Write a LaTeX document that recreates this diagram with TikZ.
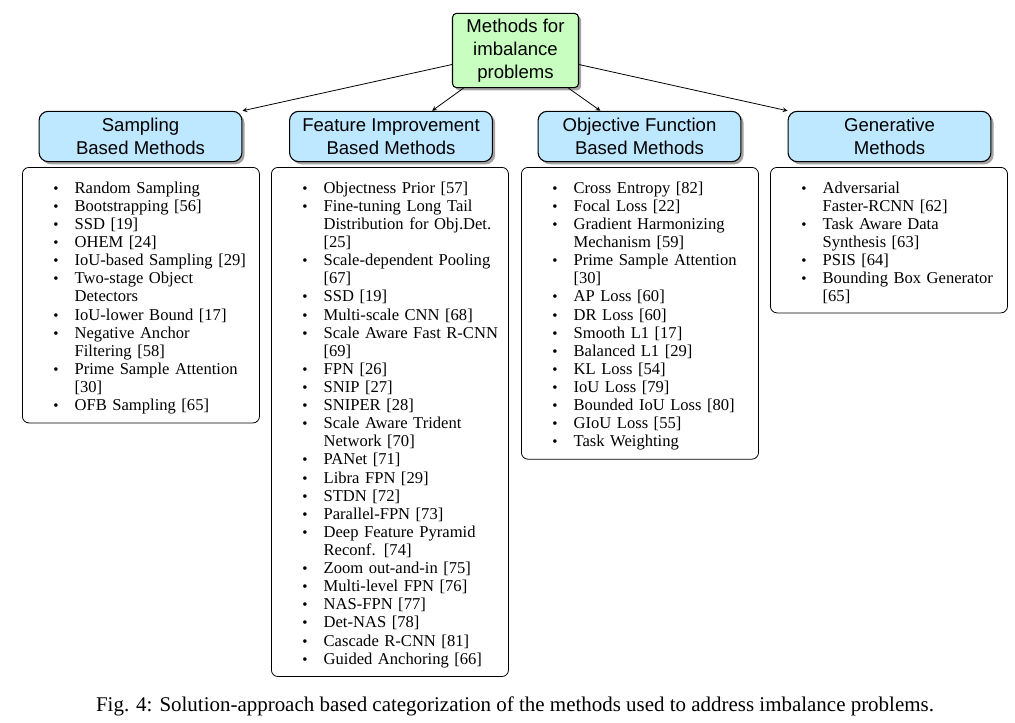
\documentclass[tikz,border=0pt]{standalone}
\usepackage{fontspec}
\setmainfont{Liberation Serif}
\setsansfont{Liberation Sans}
\usetikzlibrary{shadows}
\definecolor{rootgreen}{RGB}{200,255,192}
\definecolor{headblue}{RGB}{190,232,255}
\newcommand{\itm}{\hspace*{15pt}\makebox[16pt][l]{\scalebox{0.9}{\textbullet}}}
\newcommand{\cnt}{\hspace*{31pt}}
\begin{document}
\begin{tikzpicture}[x=0.0265cm,y=-0.0265cm,>=stealth,
		root/.style={draw,thick,fill=rootgreen,rounded corners=3pt,align=center,inner sep=2pt,
			minimum width=95pt,minimum height=56pt,font=\sffamily\fontsize{14}{17.3}\selectfont,
			drop shadow={shadow xshift=2pt,shadow yshift=-2pt,fill=black!60,opacity=0.6}},
		head/.style={draw,thick,fill=headblue,rounded corners=7pt,align=center,inner sep=2pt,
			minimum width=153pt,minimum height=38pt,font=\sffamily\fontsize{14}{17.3}\selectfont,
			drop shadow={shadow xshift=2pt,shadow yshift=-2pt,fill=black!60,opacity=0.6}},
		list/.style={draw,semithick,rounded corners=5pt,anchor=north west,align=left,
			text width=162pt,inner xsep=8.4pt,inner ysep=6.6pt,font=\fontsize{12.5}{13.66}\selectfont,
			execute at begin node={\rule{0pt}{12.9pt}}}]
		\useasboundingbox (0,0) rectangle (1015,722);
		\node[root] (root) at (515.5,50.5) {Methods for\\imbalance\\problems};
		\node[head] (samp) at (140.5,136.5) {Sampling\\Based Methods};
		\node[head] (feat) at (391,136.5) {Feature Improvement\\Based Methods};
		\node[head] (obj) at (639.5,136.5) {Objective Function\\Based Methods};
		\node[head] (gen) at (889.5,136.5) {Generative\\Methods};
		\draw[semithick,->] (root) -- (samp.north east);
		\draw[semithick,->] (root) -- ([xshift=31pt]feat.north);
		\draw[semithick,->] (root) -- ([xshift=-29.5pt]obj.north);
		\draw[semithick,->] (root) -- (gen.north west);
		\node[list] (samplist) at (22,167) {\itm Random Sampling\\ \itm Bootstrapping [56]\\ \itm SSD [19]\\
			\itm OHEM [24]\\ \itm IoU-based Sampling [29]\\ \itm Two-stage Object\\ \cnt Detectors\\
			\itm IoU-lower Bound [17]\\ \itm Negative Anchor\\ \cnt Filtering [58]\\
			\itm Prime Sample Attention\\ \cnt [30]\\ \itm OFB Sampling [65]};
		\node[list] (featlist) at (271,167) {\itm Objectness Prior [57]\\ \itm Fine-tuning Long Tail\\
			\cnt Distribution for Obj.Det.\\ \cnt [25]\\ \itm Scale-dependent Pooling\\ \cnt [67]\\
			\itm SSD [19]\\ \itm Multi-scale CNN [68]\\ \itm \mbox{Scale Aware Fast R-CNN}\\ \cnt [69]\\
			\itm FPN [26]\\ \itm SNIP [27]\\ \itm SNIPER [28]\\ \itm Scale Aware Trident\\ \cnt Network [70]\\
			\itm PANet [71]\\ \itm Libra FPN [29]\\ \itm STDN [72]\\ \itm Parallel-FPN [73]\\
			\itm Deep Feature Pyramid\\ \cnt Reconf. [74]\\ \itm Zoom out-and-in [75]\\ \itm Multi-level FPN [76]\\
			\itm NAS-FPN [77]\\ \itm Det-NAS [78]\\ \itm Cascade R-CNN [81]\\ \itm Guided Anchoring [66]};
		\node[list] (objlist) at (521,167) {\itm Cross Entropy [82]\\ \itm Focal Loss [22]\\
			\itm Gradient Harmonizing\\ \cnt Mechanism [59]\\ \itm Prime Sample Attention\\ \cnt [30]\\
			\itm AP Loss [60]\\ \itm DR Loss [60]\\ \itm Smooth L1 [17]\\ \itm Balanced L1 [29]\\
			\itm KL Loss [54]\\ \itm IoU Loss [79]\\ \itm Bounded IoU Loss [80]\\ \itm GIoU Loss [55]\\
			\itm Task Weighting};
		\node[list] (genlist) at (770,167) {\itm Adversarial\\ \cnt Faster-RCNN [62]\\ \itm Task Aware Data\\
			\cnt Synthesis [63]\\ \itm PSIS [64]\\ \itm Bounding Box Generator\\ \cnt [65]};
		\node[font=\fontsize{15.8}{18}\selectfont] (caption) at (515,706) {Fig. 4: Solution-approach based categorization of the methods used to address imbalance problems.};
	\end{tikzpicture}
\end{document}
